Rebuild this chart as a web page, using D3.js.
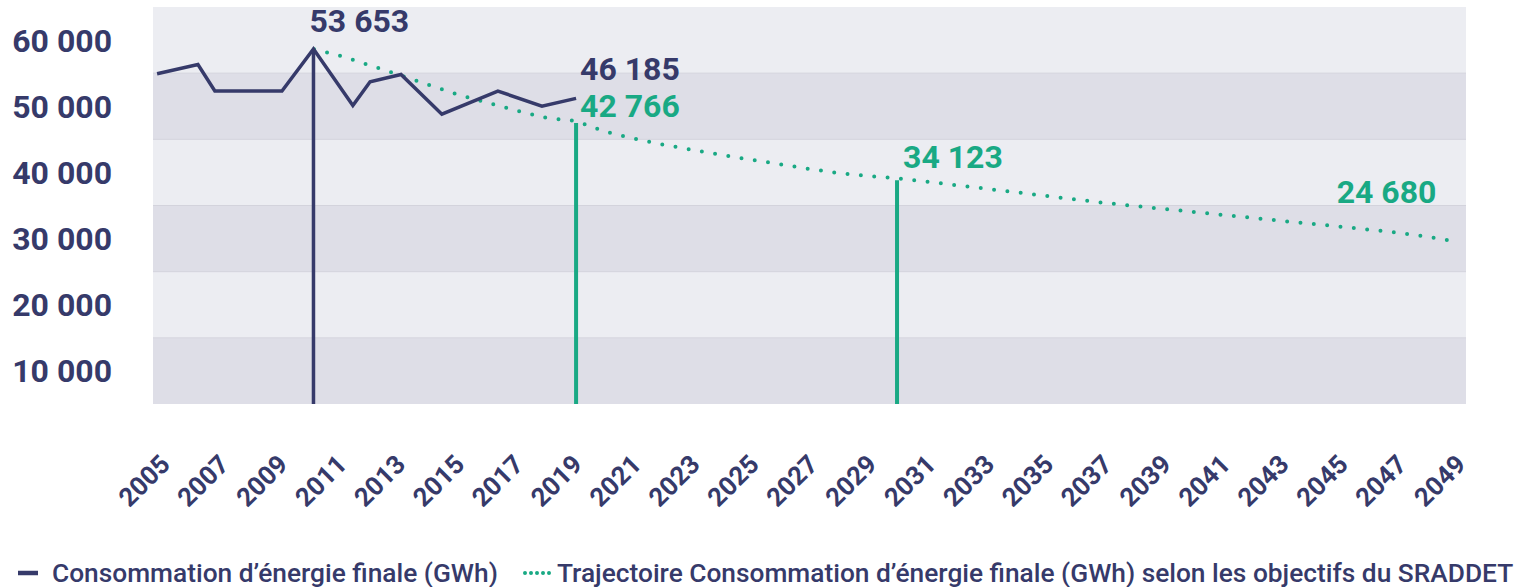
<!DOCTYPE html>
<html>
<head>
<meta charset="utf-8">
<script src="https://cdn.jsdelivr.net/npm/d3@7"></script>
<style>
  html, body { margin: 0; padding: 0; background: #fff; }
  svg { display: block; font-family: Roboto, "Noto Sans", sans-serif; }
</style>
</head>
<body>
<svg id="chart"></svg>
<script>
// historical consumption (GWh), positions
const histYears = [2004.64, 2006.04, 2006.62, 2008.92, 2010, 2011.35, 2011.94, 2013.0, 2014.4, 2016.32, 2017.83, 2019];
const histValues = [49900, 51300, 47300, 47300, 53653, 45100, 48700, 49800, 43800, 47300, 45000, 46185];

// SRADDET trajectory (GWh), 2010 -> 2049
const trajYears = d3.range(2010, 2050);
const trajValues = [53653, 52520, 51080, 49650, 48140, 46700, 45490, 44280, 43220, 42766,
  41150, 40080, 39190, 38390, 37630, 36910, 36230, 35520, 34910, 34460,
  34123, 33610, 33080, 32570, 32040, 31510, 30980, 30450, 30000, 29550,
  29110, 28650, 28220, 27760, 27320, 26890, 26430, 25990, 25400, 24680];

const yTicks = [10000, 20000, 30000, 40000, 50000, 60000];
const xTicks = d3.range(2005, 2050, 2);

// highlighted values
const markYears = [2010, 2019, 2019, 2030, 2049];
const markValues = [53653, 46185, 42766, 34123, 24680];
const markSeries = ["hist", "hist", "traj", "traj", "traj"];
const dropYears = [2010, 2019, 2030];
const dropValues = [53653, 42766, 34123];

const legendLabels = [
  "Consommation d\u2019énergie finale (GWh)",
  "Trajectoire Consommation d\u2019énergie finale (GWh) selon les objectifs du SRADDET"
];

const W = 1519, H = 587;
const NAVY = "#363a6a", GREEN = "#19a984";

const svg = d3.select("#chart").attr("width", W).attr("height", H);

const x = d3.scaleLinear().domain([2004.5, 2049.5]).range([153, 1466]);
const y = d3.scaleLinear().domain([0, 60000]).range([404, 7]);

const fmt = d3.formatLocale({ decimal: ",", thousands: " ", grouping: [3], currency: ["", " €"] }).format(",d");

// background bands
const bands = d3.range(0, 6);
svg.append("g").selectAll("rect")
  .data(bands)
  .enter()
  .append("rect")
  .attr("x", x.range()[0])
  .attr("width", x.range()[1] - x.range()[0])
  .attr("y", d => y((d + 1) * 10000))
  .attr("height", d => y(d * 10000) - y((d + 1) * 10000))
  .attr("fill", d => d % 2 === 0 ? "#dedee7" : "#ecedf2");

svg.append("g").selectAll("line")
  .data(yTicks.slice(0, -1))
  .enter()
  .append("line")
  .attr("x1", x.range()[0]).attr("x2", x.range()[1])
  .attr("y1", d => y(d)).attr("y2", d => y(d))
  .attr("stroke", "#d3d3dc").attr("stroke-width", 1);

// y labels sit in the middle of each band
svg.append("g").selectAll("text")
  .data(yTicks)
  .enter()
  .append("text")
  .attr("x", 112)
  .attr("y", d => y(d - 5000))
  .attr("dy", "0.36em")
  .attr("text-anchor", "end")
  .attr("fill", NAVY)
  .style("font-size", "32px")
  .style("font-weight", 700)
  .text(d => fmt(d));

// x labels
svg.append("g").selectAll("text")
  .data(xTicks)
  .enter()
  .append("text")
  .attr("transform", d => `translate(${x(d) + 4 + (d - 2005) * 0.27},466) rotate(-45)`)
  .attr("text-anchor", "end")
  .attr("fill", NAVY)
  .style("font-size", "26px")
  .style("font-weight", 700)
  .text(d => d);

// drop lines
svg.append("g").selectAll("line")
  .data(dropYears)
  .enter()
  .append("line")
  .attr("x1", d => x(d)).attr("x2", d => x(d))
  .attr("y1", (d, i) => y(dropValues[i]) + (i === 0 ? 0 : 2))
  .attr("y2", y(0))
  .attr("stroke", (d, i) => i === 0 ? NAVY : GREEN)
  .attr("stroke-width", (d, i) => i === 0 ? 3.5 : 4);

// trajectory (dotted)
const traj = trajYears.map((d, i) => [d, trajValues[i]]);
svg.append("path")
  .datum(traj)
  .attr("fill", "none")
  .attr("stroke", GREEN)
  .attr("stroke-width", 4)
  .attr("stroke-linecap", "round")
  .attr("stroke-dasharray", "0 13.4")
  .attr("stroke-dashoffset", -14)
  .attr("d", d3.line().x(d => x(d[0])).y(d => y(d[1])));

// historical line
const hist = histYears.map((d, i) => [d, histValues[i]]);
svg.append("path")
  .datum(hist)
  .attr("fill", "none")
  .attr("stroke", NAVY)
  .attr("stroke-width", 3.5)
  .attr("stroke-linejoin", "miter")
  .attr("d", d3.line().x(d => x(d[0])).y(d => y(d[1])));

// value labels
const labelOffsets = [[-4, -17, "start"], [4, -18, "start"], [4, -4, "start"], [6, -10, "start"], [-15, -38, "end"]];
svg.append("g").selectAll("text")
  .data(markYears)
  .enter()
  .append("text")
  .attr("x", (d, i) => x(d) + labelOffsets[i][0])
  .attr("y", (d, i) => y(markValues[i]) + labelOffsets[i][1])
  .attr("text-anchor", (d, i) => labelOffsets[i][2])
  .attr("fill", (d, i) => markSeries[i] === "hist" ? NAVY : GREEN)
  .style("font-size", "32px")
  .style("font-weight", 700)
  .text((d, i) => fmt(markValues[i]));

// legend
const lg = svg.append("g").attr("transform", "translate(0,573)");
lg.append("line")
  .attr("x1", 18).attr("x2", 38)
  .attr("stroke", NAVY).attr("stroke-width", 4.5);
lg.append("text")
  .attr("x", 52).attr("dy", "0.36em")
  .attr("fill", NAVY)
  .style("font-size", "26.3px")
  .style("font-weight", 500)
  .text(legendLabels[0]);
lg.append("line")
  .attr("x1", 525).attr("x2", 550)
  .attr("stroke", GREEN).attr("stroke-width", 4)
  .attr("stroke-linecap", "round")
  .attr("stroke-dasharray", "0 6");
lg.append("text")
  .attr("x", 557).attr("dy", "0.36em")
  .attr("fill", NAVY)
  .style("font-size", "26.3px")
  .style("font-weight", 500)
  .text(legendLabels[1]);
</script>
</body>
</html>
